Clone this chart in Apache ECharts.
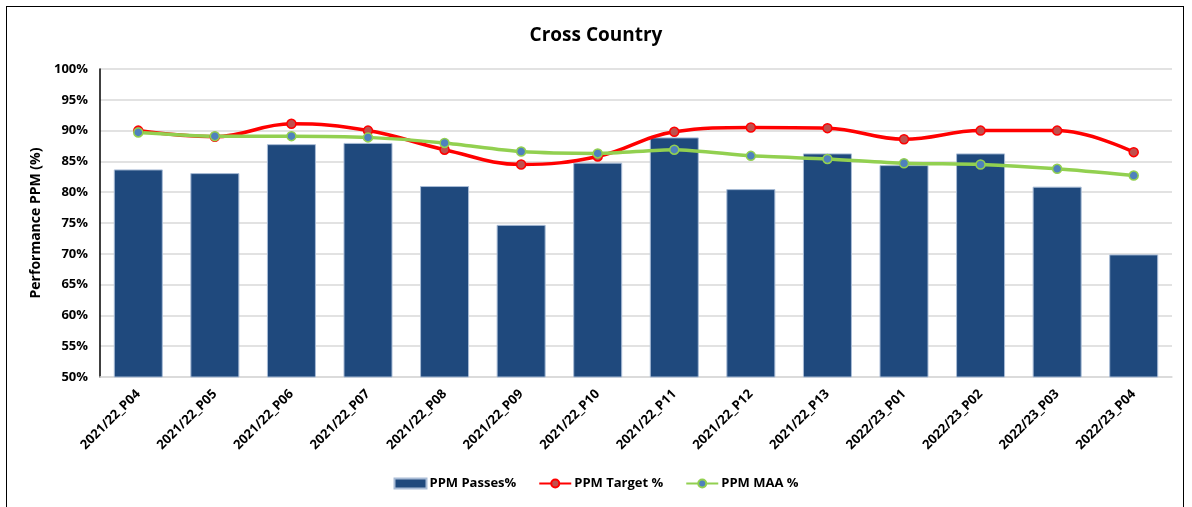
<!DOCTYPE html>
<html lang="en">
<head>
    <meta charset="utf-8">
    <title>Cross Country</title>
    <script src="https://cdn.jsdelivr.net/npm/echarts@6/dist/echarts.min.js"></script>
    <style>
        html, body { margin: 0; padding: 0; background: #fff; }
        #frame { position: absolute; left: 6px; top: 6px; width: 1178px; height: 520px; border: 1.5px solid #000; box-sizing: border-box; }
        #chart { position: absolute; left: 0; top: 0; width: 1192px; height: 507px; }
    </style>
</head>
<body>
<div id="frame"></div>
<div id="chart"></div>
<script>
    // periods
    const periods = [
        '2021/22_P04', '2021/22_P05', '2021/22_P06', '2021/22_P07', '2021/22_P08',
        '2021/22_P09', '2021/22_P10', '2021/22_P11', '2021/22_P12', '2021/22_P13',
        '2022/23_P01', '2022/23_P02', '2022/23_P03', '2022/23_P04'
    ];
    // PPM Passes% (bars)
    const passes = [83.7, 83.1, 87.8, 88.0, 81.0, 74.7, 84.8, 88.9, 80.5, 86.3, 84.4, 86.3, 80.9, 69.9];
    // PPM Target %
    const target = [90.0, 89.0, 91.1, 90.0, 86.9, 84.5, 85.8, 89.8, 90.5, 90.4, 88.6, 90.0, 90.0, 86.5];
    // PPM MAA %
    const maa = [89.7, 89.1, 89.1, 88.9, 88.0, 86.6, 86.3, 86.9, 85.9, 85.4, 84.7, 84.5, 83.8, 82.7];

    const font = 'Open Sans, Noto Sans, sans-serif';

    const chart = echarts.init(document.getElementById('chart'));
    const option = {
        animation: false,
        title: {
            text: 'Cross Country',
            left: 'center',
            top: 21,
            textStyle: { fontFamily: font, fontSize: 19, fontWeight: 'bold', color: '#000' }
        },
        legend: {
            bottom: 12,
            left: 'center',
            itemGap: 22,
            itemWidth: 32,
            itemHeight: 10,
            textStyle: { fontFamily: font, fontSize: 13, fontWeight: 'bold', color: '#000', padding: [0, 0, 0, -2] },
            data: [
                { name: 'PPM Passes%', icon: 'rect' },
                { name: 'PPM Target %' },
                { name: 'PPM MAA %' }
            ]
        },
        grid: { left: 100, right: 20, top: 69, bottom: 130 },
        xAxis: {
            type: 'category',
            data: periods,
            axisTick: { show: false },
            axisLine: { lineStyle: { color: '#d9d9d9', width: 1.5 } },
            axisLabel: {
                rotate: 45,
                margin: 15,
                interval: 0,
                fontFamily: font,
                fontSize: 13,
                fontWeight: 'bold',
                color: '#000'
            }
        },
        yAxis: {
            type: 'value',
            min: 50,
            max: 100,
            interval: 5,
            name: 'Performance PPM (%)',
            nameLocation: 'middle',
            nameGap: 56,
            nameTextStyle: { fontFamily: font, fontSize: 14, fontWeight: 'bold', color: '#000' },
            axisLine: { show: true, lineStyle: { color: '#000', width: 1.5 } },
            axisTick: { show: false },
            splitLine: { lineStyle: { color: '#d9d9d9', width: 1.5 } },
            axisLabel: {
                formatter: '{value}%',
                margin: 12,
                fontFamily: font,
                fontSize: 13,
                fontWeight: 'bold',
                color: '#000'
            }
        },
        series: [
            {
                name: 'PPM Passes%',
                type: 'bar',
                data: passes,
                barWidth: '64%',
                itemStyle: { color: '#1f497d', borderColor: '#a9bcd6', borderWidth: 1 }
            },
            {
                name: 'PPM Target %',
                type: 'line',
                data: target,
                smooth: 0.4,
                symbol: 'circle',
                symbolSize: 9,
                lineStyle: { color: '#ff0000', width: 3.5 },
                itemStyle: { color: '#c0504d', borderColor: '#ff0000', borderWidth: 1.5 }
            },
            {
                name: 'PPM MAA %',
                type: 'line',
                data: maa,
                smooth: 0.25,
                symbol: 'circle',
                symbolSize: 9,
                lineStyle: { color: '#92d050', width: 3.5 },
                itemStyle: { color: '#4f81bd', borderColor: '#92d050', borderWidth: 1.5 }
            }
        ]
    };
    chart.setOption(option);
</script>
</body>
</html>
